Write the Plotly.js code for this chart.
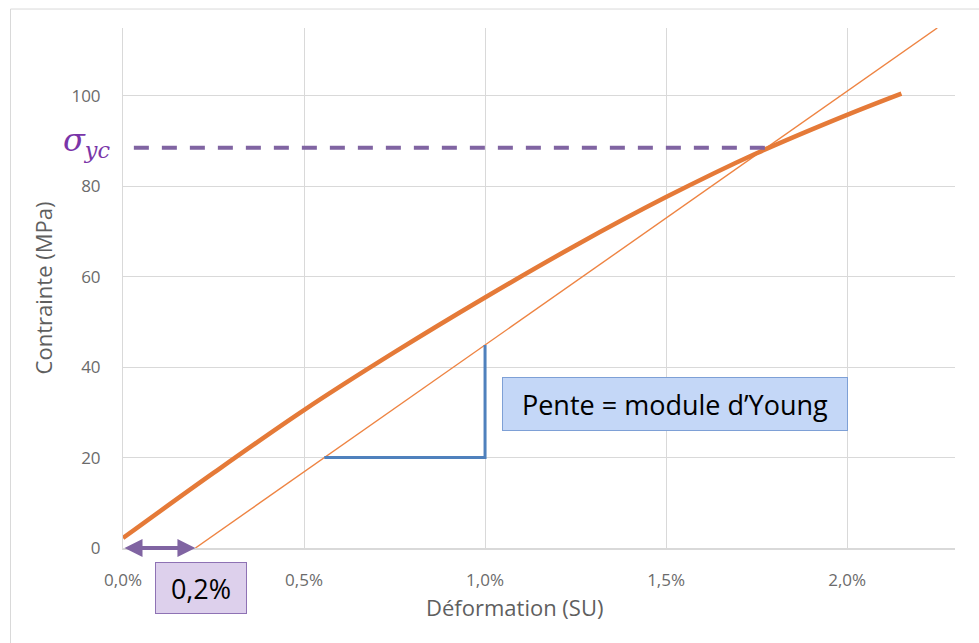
<!DOCTYPE html>
<html>
<head>
<meta charset="utf-8">
<script src="https://cdn.plot.ly/plotly-3.0.1.min.js"></script>
<style>html,body{margin:0;padding:0;background:#fff;}#chart{width:979px;height:643px;}</style>
</head>
<body>
<div id="chart"></div>
<script>
// Stress-strain curve (strain in %, stress in MPa)
const strainPct = [0, 0.25, 0.5, 0.75, 1.0, 1.25, 1.5, 1.75, 2.0, 2.15];
const stressMPa = [2.2, 16.6, 30.5, 43.3, 55.4, 66.9, 77.6, 87.3, 95.8, 100.5];
// 0.2% offset line (slope = Young's modulus)
const offsetX = [0.2, 2.249];
const offsetY = [0, 115];
// Slope triangle
const slopeX = [0.556, 1.0, 1.0];
const slopeY = [20, 20, 44.9];
// Yield point
const yieldX = [0.03, 1.778];
const yieldY = [88.5, 88.5];
// Axis ticks
const xTicks = [0, 0.5, 1.0, 1.5, 2.0];
const xTickText = ['0,0%', '0,5%', '1,0%', '1,5%', '2,0%'];
const yTicks = [0, 20, 40, 60, 80, 100];

const orange = '#E57A38';
const purple = '#8064A2';
const blue = '#4F81BD';
const font = 'Open Sans, Noto Sans, sans-serif';

const traces = [
  {x: offsetX, y: offsetY, mode: 'lines', line: {color: '#EE8443', width: 1.4}, hoverinfo: 'skip'},
  {x: strainPct, y: stressMPa, mode: 'lines', line: {color: orange, width: 4.5, shape: 'spline', smoothing: 1}, hoverinfo: 'skip'},
  {x: yieldX, y: yieldY, mode: 'lines', line: {color: purple, width: 4, dash: '15px,13px'}, hoverinfo: 'skip'},
  {x: slopeX, y: slopeY, mode: 'lines', line: {color: blue, width: 3}, hoverinfo: 'skip'}
];

const layout = {
  width: 979, height: 643,
  margin: {l: 123, r: 24, t: 28, b: 95},
  paper_bgcolor: '#fff', plot_bgcolor: '#fff',
  showlegend: false,
  separators: ', ',
  font: {family: font},
  xaxis: {
    range: [0, 2.298], tickvals: xTicks, ticktext: xTickText,
    showgrid: true, gridcolor: '#d9d9d9', gridwidth: 1,
    zeroline: false, showline: true, linecolor: '#d9d9d9', linewidth: 2,
    ticks: '', ticklabelstandoff: 16,
    tickfont: {family: font, size: 17, color: '#6b6b6b'},
    fixedrange: true
  },
  yaxis: {
    range: [0, 115], tickvals: yTicks,
    showgrid: true, gridcolor: '#d9d9d9', gridwidth: 1,
    zeroline: false, showline: true, linecolor: '#d9d9d9', linewidth: 1,
    ticks: '', ticklabelstandoff: 18,
    tickfont: {family: font, size: 17, color: '#6b6b6b'},
    title: {text: 'Contrainte (MPa)', font: {family: font, size: 22, color: '#5f5f5f'}, standoff: 12},
    fixedrange: true
  },
  shapes: [
    {type: 'rect', xref: 'paper', yref: 'paper', x0: -0.1352, x1: 1.2, y0: -0.4, y1: 1.0365,
     line: {color: '#d9d9d9', width: 1}, fillcolor: 'rgba(0,0,0,0)', layer: 'below'}
  ],
  annotations: [
    {x: 0.471, y: -0.1135, xref: 'paper', yref: 'paper', xanchor: 'center', yanchor: 'middle',
     text: 'Déformation (SU)', showarrow: false,
     font: {family: font, size: 22, color: '#5f5f5f'}},
    {x: 0.2, y: 0, ax: 0, ay: 0, xref: 'x', yref: 'y', axref: 'x', ayref: 'y', text: '',
     showarrow: true, arrowhead: 2, arrowside: 'end+start', arrowsize: 0.9, arrowwidth: 4,
     arrowcolor: purple, standoff: 0, startstandoff: 0},
    {x: 0.215, y: -0.077, xref: 'x', yref: 'paper', xanchor: 'center', yanchor: 'middle',
     text: '0,2%', showarrow: false,
     font: {family: font, size: 27, color: '#000'}, bgcolor: '#ddd0ec', bordercolor: '#8e72b4',
     borderwidth: 1, width: 90, height: 50, borderpad: 0},
    {x: 1.525, y: 31.8, xref: 'x', yref: 'y', xanchor: 'center', yanchor: 'middle',
     text: 'Pente = module d\u2019Young', showarrow: false,
     font: {family: font, size: 27, color: '#000'}, bgcolor: '#c4d7f7', bordercolor: '#7ea0d6',
     borderwidth: 1, width: 344, height: 52, borderpad: 0},
    {x: -0.0433, y: 89.8, xref: 'paper', yref: 'y', xanchor: 'center', yanchor: 'middle',
     text: '<i>σ</i><sub><i>yc</i></sub>', showarrow: false,
     font: {family: 'DejaVu Serif, Liberation Serif, serif', size: 32, color: '#7a35a8'}}
  ]
};

Plotly.newPlot('chart', traces, layout, {displayModeBar: false, staticPlot: true});
</script>
</body>
</html>
